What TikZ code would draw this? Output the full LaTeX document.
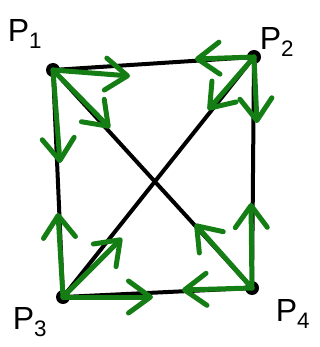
\documentclass[tikz,border=0pt]{standalone}
\usepackage{fontspec}
\setmainfont{Liberation Sans}
\usetikzlibrary{arrows.meta}
\definecolor{gr}{RGB}{20,125,20}
\begin{document}
\begin{tikzpicture}[x=1pt,y=-1pt,
  dot/.style={circle,fill=black,inner sep=0pt,minimum size=14pt},
  edge/.style={black,line width=4pt,line cap=round},
  garrow/.style={gr,line width=5pt,line cap=round,-{Straight Barb[length=22pt,width=32pt,round]}},
  lbl/.style={font=\fontsize{32}{32}\selectfont}]
\useasboundingbox (0,0) rectangle (320,347);
\node[dot] (p1) at (53,70) {};
\node[dot] (p2) at (254,57) {};
\node[dot] (p3) at (63,297) {};
\node[dot] (p4) at (252,288) {};
\draw[edge] (p1.center) -- (p2.center) -- (p4.center) -- (p3.center) -- cycle;
\draw[edge] (p1.center) -- (p4.center);
\draw[edge] (p2.center) -- (p3.center);
\coordinate (a1r) at (130,76);
\coordinate (a1d) at (60,163);
\coordinate (a1x) at (110,128);
\coordinate (a2l) at (195,59);
\coordinate (a2d) at (257,123);
\coordinate (a2x) at (208,110);
\coordinate (a3u) at (58,213);
\coordinate (a3x) at (122,238);
\coordinate (a3r) at (153,297);
\coordinate (a4u) at (251,203);
\coordinate (a4x) at (195,224);
\coordinate (a4l) at (182,290);
\draw[garrow] (p1.center) -- (a1r);
\draw[garrow] (p1.center) -- (a1d);
\draw[garrow] (p1.center) -- (a1x);
\draw[garrow] (p2.center) -- (a2l);
\draw[garrow] (p2.center) -- (a2d);
\draw[garrow] (p2.center) -- (a2x);
\draw[garrow] (p3.center) -- (a3u);
\draw[garrow] (p3.center) -- (a3x);
\draw[garrow] (p3.center) -- (a3r);
\draw[garrow] (p4.center) -- (a4u);
\draw[garrow] (p4.center) -- (a4x);
\draw[garrow] (p4.center) -- (a4l);
\node[lbl] (l1) at (25,34) {P\textsubscript{1}};
\node[lbl] (l2) at (277,42) {P\textsubscript{2}};
\node[lbl] (l3) at (30,322) {P\textsubscript{3}};
\node[lbl] (l4) at (293,314) {P\textsubscript{4}};
\end{tikzpicture}
\end{document}
